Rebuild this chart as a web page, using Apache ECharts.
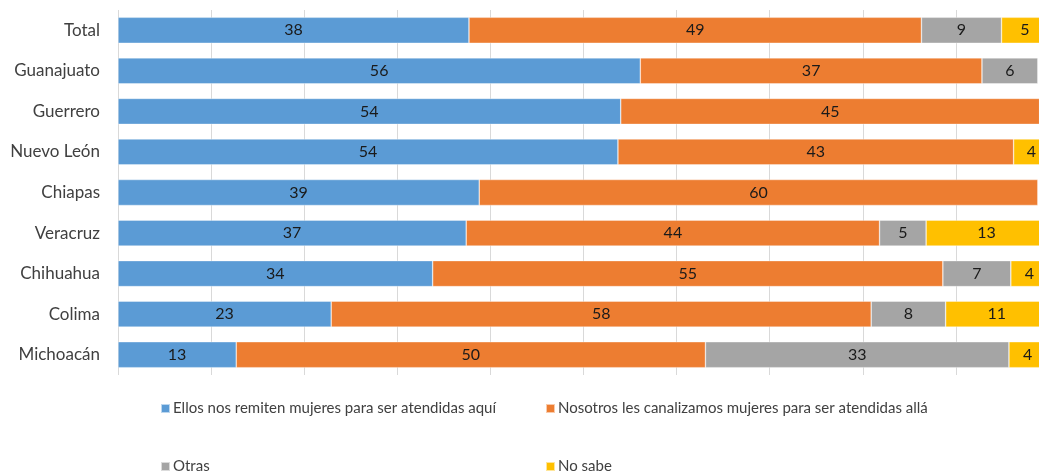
<!DOCTYPE html>
<html>
<head>
<meta charset="utf-8">
<script src="https://cdn.jsdelivr.net/npm/echarts@6/dist/echarts.min.js"></script>
<style>
html,body{margin:0;padding:0;background:#fff;overflow:hidden;width:1039px;height:472px;}
#c{width:1049px;height:472px;}
</style>
</head>
<body>
<div id="c"></div>
<script>
const categories = ["Total","Guanajuato","Guerrero","Nuevo León","Chiapas","Veracruz","Chihuahua","Colima","Michoacán"];
const seriesNames = ["Ellos nos remiten mujeres para ser atendidas aquí","Nosotros les canalizamos mujeres para ser atendidas allá","Otras","No sabe"];
const ellos    = [37.7, 56.1, 54.0, 53.7, 38.8, 37.4, 33.8, 22.9, 12.7];
const nosotros = [48.6, 36.7, 45.0, 42.5, 60.0, 44.4, 54.8, 58.0, 50.4];
const otras    = [8.6, 6.0, null, null, null, 5.0, 7.3, 8.0, 32.6];
const noSabe   = [5.0, null, null, 4.0, null, 13.0, 4.0, 11.0, 4.0];
const colors = ["#5B9BD5","#ED7D31","#A5A5A5","#FFC000"];
const FONT = "Lato";

const chart = echarts.init(document.getElementById('c'));
const cats = categories.slice().reverse();
function mk(name, data, color){
  return {
    name: name, type: 'bar', stack: 'a',
    data: data.slice().reverse(),
    barCategoryGap: '36%',
    itemStyle: {color: color, borderColor: 'rgba(255,255,255,0.6)', borderWidth: 0.6},
    label: {show: true, position: 'inside', color: '#1a1a1a', fontFamily: FONT, fontSize: 16,
      formatter: p => p.value == null ? '' : Math.round(p.value)},
    emphasis: {disabled: true}
  };
}
function lg(left, top, name){
  return {left: left, top: top, itemWidth: 9, itemHeight: 9, icon: 'rect', data: [name],
    itemGap: 4,
    textStyle: {color: '#404040', fontFamily: FONT, fontSize: 15, padding: [0,0,0,-2]}};
}
chart.setOption({
  animation: false,
  textStyle: {fontFamily: FONT},
  grid: {left: 118, right: 0, top: 10, bottom: 97, containLabel: false},
  xAxis: {type: 'value', min: 0, max: 100, interval: 10,
    axisLabel: {show: false}, axisLine: {show: false}, axisTick: {show: false},
    splitLine: {show: true, lineStyle: {color: '#d9d9d9', width: 1}}},
  yAxis: {type: 'category', data: cats,
    axisLine: {show: false}, axisTick: {show: false},
    axisLabel: {color: '#404040', fontFamily: FONT, fontSize: 17, margin: 18}},
  legend: [
    lg(155, 396, seriesNames[0]),
    lg(540, 396, seriesNames[1]),
    lg(155, 454, seriesNames[2]),
    lg(540, 454, seriesNames[3])
  ],
  series: [
    mk(seriesNames[0], ellos, colors[0]),
    mk(seriesNames[1], nosotros, colors[1]),
    mk(seriesNames[2], otras, colors[2]),
    mk(seriesNames[3], noSabe, colors[3])
  ]
});
</script>
</body>
</html>
